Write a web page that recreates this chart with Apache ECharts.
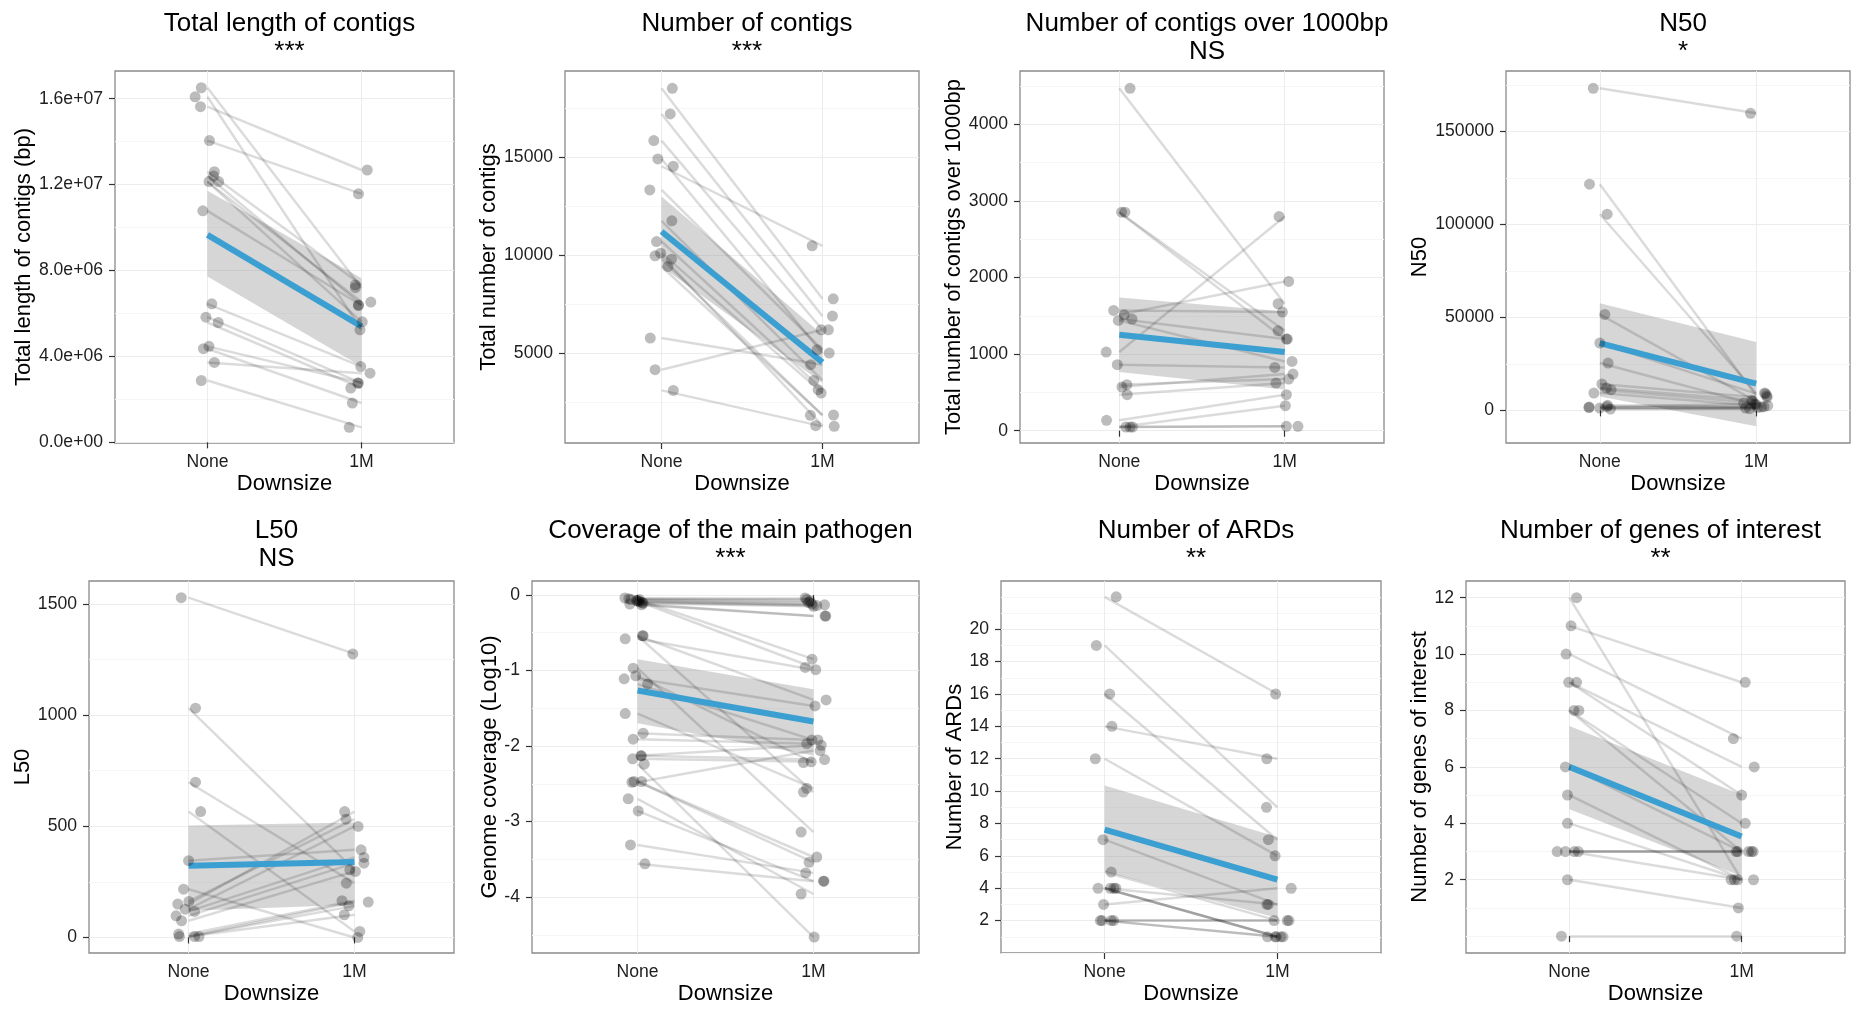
<!DOCTYPE html>
<html><head><meta charset="utf-8">
<script src="https://cdn.jsdelivr.net/npm/echarts@6.0.0/dist/echarts.min.js"></script>
<style>html,body{margin:0;padding:0;background:#fff}#c{width:1852px;height:1010px}</style>
</head><body><div id="c"></div><script>
// ---------- data ----------
const categories = ['None', '1M'];

// Panel 1: Total length of contigs
const p1None = [16.51e6,16.09e6,15.63e6,14.05e6,12.60e6,12.40e6,12.14e6,12.14e6,10.78e6,6.45e6,5.83e6,5.58e6,4.47e6,4.36e6,3.72e6,2.88e6];
const p1OneM = [7.20e6,5.24e6,12.68e6,11.57e6,7.33e6,6.40e6,6.53e6,5.61e6,6.37e6,3.53e6,2.76e6,2.53e6,2.76e6,1.83e6,3.22e6,0.70e6];
const p1JitNone = [-0.04,-0.08,-0.045,0.013,0.045,0.04,0.01,0.073,-0.03,0.028,-0.01,0.07,0.01,-0.026,0.045,-0.04];
const p1JitOneM = [-0.04,-0.01,0.037,-0.02,-0.04,-0.02,0.06,0.005,-0.02,-0.005,-0.02,-0.07,-0.025,-0.06,0.055,-0.08];
const p1Fit = [9.66e6, 5.40e6], p1Lo = [7.72e6, 3.53e6], p1Hi = [11.72e6, 7.64e6];
const p1Ticks = [0, 4e6, 8e6, 12e6, 16e6];
const p1TickLabels = ['0.0e+00','4.0e+06','8.0e+06','1.2e+07','1.6e+07'];
const p1Minor = [2e6, 6e6, 10e6, 14e6];

// Panel 2: Number of contigs
const p2None = [18520,17211,15850,14915,14541,13333,11752,10697,10102,9966,9796,9422,5765,4150,3095];
const p2OneM = [7772,6888,6190,5000,10476,5170,3605,3129,2959,1292,1820,1837,4405,6190,1258];
const p2JitNone = [0.067,0.054,-0.048,-0.023,0.073,-0.073,0.064,-0.031,-0.006,-0.04,0.062,0.04,-0.07,-0.04,0.073];
const p2JitOneM = [0.067,0.062,-0.008,0.042,-0.064,-0.033,-0.054,-0.027,-0.008,-0.042,-0.075,0.069,-0.073,0.037,0.073];
const p2Fit = [11207, 4524], p2Lo = [9422, 3469], p2Hi = [12993, 5935];
const p2Ticks = [5000, 10000, 15000];
const p2TickLabels = ['5000','10000','15000'];
const p2Minor = [2500, 7500, 12500, 17500];

// Panel 3: Number of contigs over 1000bp
const p3None = [4470,2852,2852,1570,1513,1439,1457,1026,861,600,570,470,135,48,48,48];
const p3OneM = [1657,1196,1304,1548,1948,904,1196,2796,826,674,739,622,470,326,57,57];
const p3JitNone = [0.065,0.014,0.034,-0.034,0.03,-0.006,0.077,-0.079,-0.012,0.046,0.016,0.048,-0.077,0.04,0.065,0.08];
const p3JitOneM = [-0.04,0.01,-0.04,-0.014,0.024,0.044,0.016,-0.034,-0.06,0.024,0.05,-0.053,0.01,0.004,0.01,0.08];
const p3Fit = [1252, 1026], p3Lo = [765, 536], p3Hi = [1739, 1557];
const p3Ticks = [0, 1000, 2000, 3000, 4000];
const p3TickLabels = ['0','1000','2000','3000','4000'];
const p3Minor = [500, 1500, 2500, 3500, 4500];

// Panel 4: N50
const p4None = [173286,121677,105549,51610,36198,25446,14157,12006,11110,9318,1792,1254,2688,717,1500,2000];
const p4OneM = [159846,7885,9318,4838,9000,3046,7000,5500,3942,2509,1792,1254,2000,896,1500,3500];
const p4JitNone = [-0.042,-0.066,0.047,0.032,0.0,0.053,0.013,0.042,0.072,-0.038,-0.068,0.0,0.05,0.068,-0.07,0.045];
const p4JitOneM = [-0.036,0.068,0.053,-0.021,0.06,0.0,0.07,-0.03,-0.08,0.074,0.034,-0.068,0.05,-0.042,0.01,-0.01];
const p4Fit = [36198, 14336], p4Lo = [7526, -8602], p4Hi = [57702, 36736];
const p4Ticks = [0, 50000, 100000, 150000];
const p4TickLabels = ['0','50000','100000','150000'];
const p4Minor = [25000, 75000, 125000, 175000];

// Panel 5: L50
const p5None = [1528,1031,698,566,345,217,150,162,127,117,97,75,15,4,4,4];
const p5OneM = [1275,304,244,27,394,0,566,532,499,360,334,297,165,142,159,102];
const p5JitNone = [-0.044,0.042,0.042,0.073,0.0,-0.03,-0.065,0.002,-0.02,0.036,-0.075,-0.042,-0.06,-0.055,0.036,0.063];
const p5JitOneM = [-0.01,-0.028,-0.049,0.032,0.04,0.02,-0.059,-0.051,0.022,0.057,0.057,0.006,-0.075,-0.034,0.083,-0.061];
const p5Fit = [322, 339], p5Lo = [120, 147], p5Hi = [503, 517];
const p5Ticks = [0, 500, 1000, 1500];
const p5TickLabels = ['0','500','1000','1500'];
const p5Minor = [250, 750, 1250];

// Panel 6: Coverage of the main pathogen
const p6None = [-0.04,-0.05,-0.06,-0.07,-0.08,-0.09,-0.10,-0.11,-0.12,-0.13,-0.06,-0.08,
  -0.58,-0.54,-0.54,-0.97,-1.07,-1.11,-1.18,-1.57,-1.91,-1.83,-2.13,-2.13,-2.17,-2.24,-2.48,-2.47,-2.47,-2.70,-2.86,-3.31,-3.56];
const p6OneM = [-0.04,-0.06,-0.08,-0.10,-0.12,-0.13,-0.14,-0.15,-0.28,-0.28,-0.85,-0.96,
  -0.99,-1.39,-2.61,-3.14,-2.22,-1.47,-1.92,-2.56,-1.97,-1.92,-1.99,-2.18,-2.21,-4.53,-2.06,-3.47,-3.54,-3.96,-3.79,-3.68,-3.79];
const p6JitNone = [-0.072,-0.05,-0.038,-0.006,0.004,0.013,0.027,0.032,-0.044,0.023,0.01,-0.002,
  -0.07,0.032,0.028,-0.025,-0.01,-0.076,0.057,-0.07,-0.025,0.032,0.019,0.022,-0.028,0.038,-0.032,-0.02,0.023,-0.053,0.004,-0.04,0.042];
const p6JitOneM = [-0.047,-0.038,-0.019,-0.028,-0.009,0.063,0.019,0.0,0.066,0.07,-0.008,-0.047,
  0.013,0.072,-0.057,-0.07,-0.057,0.009,-0.009,-0.038,-0.038,0.025,0.044,0.063,-0.013,0.004,0.038,0.019,-0.025,-0.07,0.057,-0.044,0.06];
const p6Fit = [-1.266, -1.676], p6Lo = [-1.698, -2.126], p6Hi = [-0.851, -1.248];
const p6Ticks = [-4, -3, -2, -1, 0];
const p6TickLabels = ['-4','-3','-2','-1','0'];
const p6Minor = [-4.5, -3.5, -2.5, -1.5, -0.5];

// Panel 7: Number of ARDs
const p7None = [22,19,16,14,12,7,5,4,4,4,4,3,2,2,2,2];
const p7OneM = [16,9,7,12,6,3,2,1,1,3,1,4,2,1,2,1];
const p7JitNone = [0.067,-0.048,0.029,0.042,-0.054,-0.01,0.038,-0.038,0.034,0.054,0.065,-0.006,-0.025,-0.015,0.038,0.052];
const p7JitOneM = [-0.01,-0.063,-0.052,-0.061,-0.013,-0.061,-0.019,-0.057,-0.013,-0.052,-0.006,0.08,0.057,0.033,0.067,0.02];
const p7Fit = [7.62, 4.53], p7Lo = [5.04, 2.16], p7Hi = [10.35, 7.16];
const p7Ticks = [2,4,6,8,10,12,14,16,18,20];
const p7TickLabels = ['2','4','6','8','10','12','14','16','18','20'];
const p7Minor = [0,1,3,5,7,9,11,13,15,17,19,21,22];

// Panel 8: Number of genes of interest
const p8None = [12,11,10,9,9,8,8,6,5,4,3,3,3,3,2,0];
const p8OneM = [2,9,7,6,5,4,3,3,2,2,3,3,3,2,1,0];
const p8JitNone = [0.042,0.01,-0.019,-0.004,0.042,0.027,0.055,-0.023,-0.011,-0.011,-0.071,-0.023,0.029,0.052,-0.011,-0.046];
const p8JitOneM = [-0.042,0.021,-0.048,0.073,0.0,0.021,-0.032,-0.023,-0.061,-0.023,0.04,0.057,0.067,0.069,-0.019,-0.029];
const p8Fit = [6.0, 3.53], p8Lo = [4.50, 2.12], p8Hi = [7.45, 5.01];
const p8Ticks = [2,4,6,8,10,12];
const p8TickLabels = ['2','4','6','8','10','12'];
const p8Minor = [0,1,3,5,7,9,11];

// ---------- panel definitions ----------
const panels = [
  {title:'Total length of contigs\n***', ytitle:'Total length of contigs (bp)', none:p1None, oneM:p1OneM, jn:p1JitNone, j1:p1JitOneM, fit:p1Fit, lo:p1Lo, hi:p1Hi, ticks:p1Ticks, labels:p1TickLabels, minor:p1Minor, ymin:-0.03e6, ymax:17.29e6},
  {title:'Number of contigs\n***', ytitle:'Total number of contigs', none:p2None, oneM:p2OneM, jn:p2JitNone, j1:p2JitOneM, fit:p2Fit, lo:p2Lo, hi:p2Hi, ticks:p2Ticks, labels:p2TickLabels, minor:p2Minor, ymin:408, ymax:19405},
  {title:'Number of contigs over 1000bp\nNS', ytitle:'Total number of contigs over 1000bp', none:p3None, oneM:p3OneM, jn:p3JitNone, j1:p3JitOneM, fit:p3Fit, lo:p3Lo, hi:p3Hi, ticks:p3Ticks, labels:p3TickLabels, minor:p3Minor, ymin:-161, ymax:4696},
  {title:'N50\n*', ytitle:'N50', none:p4None, oneM:p4OneM, jn:p4JitNone, j1:p4JitOneM, fit:p4Fit, lo:p4Lo, hi:p4Hi, ticks:p4Ticks, labels:p4TickLabels, minor:p4Minor, ymin:-17562, ymax:182605},
  {title:'L50\nNS', ytitle:'L50', none:p5None, oneM:p5OneM, jn:p5JitNone, j1:p5JitOneM, fit:p5Fit, lo:p5Lo, hi:p5Hi, ticks:p5Ticks, labels:p5TickLabels, minor:p5Minor, ymin:-70, ymax:1603},
  {title:'Coverage of the main pathogen\n***', ytitle:'Genome coverage (Log10)', none:p6None, oneM:p6OneM, jn:p6JitNone, j1:p6JitOneM, fit:p6Fit, lo:p6Lo, hi:p6Hi, ticks:p6Ticks, labels:p6TickLabels, minor:p6Minor, ymin:-4.741, ymax:0.185},
  {title:'Number of ARDs\n**', ytitle:'Number of ARDs', none:p7None, oneM:p7OneM, jn:p7JitNone, j1:p7JitOneM, fit:p7Fit, lo:p7Lo, hi:p7Hi, ticks:p7Ticks, labels:p7TickLabels, minor:p7Minor, ymin:0, ymax:22.98},
  {title:'Number of genes of interest\n**', ytitle:'Number of genes of interest', none:p8None, oneM:p8OneM, jn:p8JitNone, j1:p8JitOneM, fit:p8Fit, lo:p8Lo, hi:p8Hi, ticks:p8Ticks, labels:p8TickLabels, minor:p8Minor, ymin:-0.597, ymax:12.59}
];

// layout (pixels)
const layout = [
  {left:115,   top:71,  width:339, height:372, nameGap:74, titleTop:5},
  {left:565,   top:71,  width:354, height:372, nameGap:64, titleTop:5},
  {left:1020,  top:71,  width:364, height:372, nameGap:54, titleTop:5},
  {left:1506,  top:71,  width:344, height:372, nameGap:74, titleTop:5},
  {left:89,    top:581, width:365, height:372, nameGap:53, titleTop:512},
  {left:532,   top:581, width:387, height:372, nameGap:30, titleTop:512},
  {left:1001,  top:581, width:380, height:372, nameGap:34, titleTop:512},
  {left:1466,  top:581, width:379, height:372, nameGap:35, titleTop:512}
];

const FONT = '"Liberation Sans", Arial, Helvetica, sans-serif';
const BLUE = '#3b9fd1';
const grids = [], xAxes = [], yAxes = [], titles = [], series = [];

panels.forEach((p, i) => {
  const L = layout[i];
  grids.push({left:L.left, top:L.top, width:L.width, height:L.height, show:true,
    borderColor:'#8a8a8a', borderWidth:1.3, backgroundColor:'#ffffff', containLabel:false});
  titles.push({text:p.title, left:L.left + L.width/2, top:L.titleTop, textAlign:'center',
    textStyle:{fontSize:26, fontWeight:'normal', color:'#000', lineHeight:28, fontFamily:FONT}});
  xAxes.push({gridIndex:i, type:'value', min:0.4, max:2.6,
    axisLine:{show:false},
    axisTick:{show:true, customValues:[1,2], length:6, lineStyle:{color:'#333', width:1.2}},
    axisLabel:{customValues:[1,2], formatter:v => categories[Math.round(v)-1], fontSize:17.6, color:'#1e1e1e', margin:10, fontFamily:FONT},
    splitLine:{show:true, lineStyle:{color:'#ececec', width:1}},
    name:'Downsize', nameLocation:'middle', nameGap:30,
    nameTextStyle:{fontSize:22, color:'#000', fontFamily:FONT}});
  yAxes.push({gridIndex:i, type:'value', min:p.ymin, max:p.ymax,
    axisLine:{show:false},
    axisTick:{show:true, customValues:p.ticks, length:6, lineStyle:{color:'#333', width:1.2}},
    axisLabel:{customValues:p.ticks, formatter:v => p.labels[p.ticks.indexOf(v)], fontSize:17.6, color:'#1e1e1e', margin:12, fontFamily:FONT},
    splitLine:{show:true, lineStyle:{color:'#ececec', width:1}},
    name:p.ytitle, nameLocation:'middle', nameGap:L.nameGap,
    nameTextStyle:{fontSize:22, color:'#000', fontFamily:FONT}});
  yAxes.push({gridIndex:i, type:'value', min:p.ymin, max:p.ymax,
    axisLine:{show:false},
    axisTick:{show:false, customValues:p.minor},
    axisLabel:{show:false, customValues:p.minor},
    splitLine:{show:true, lineStyle:{color:'#f6f6f6', width:1}}});
  const yi = 2*i;
  // confidence band
  series.push({type:'custom', xAxisIndex:i, yAxisIndex:yi, silent:true, z:1,
    data:[[1, p.fit[0]]],
    renderItem:(params, api) => {
      const pts = [api.coord([1, p.lo[0]]), api.coord([1, p.hi[0]]), api.coord([2, p.hi[1]]), api.coord([2, p.lo[1]])];
      return {type:'polygon', shape:{points:pts}, style:{fill:'rgba(153,153,153,0.4)'}};
    }});
  // paired lines
  series.push({type:'lines', coordinateSystem:'cartesian2d', xAxisIndex:i, yAxisIndex:yi, silent:true, z:2,
    data:p.none.map((v,k) => ({coords:[[1, v],[2, p.oneM[k]]]})),
    lineStyle:{color:'rgba(0,0,0,0.14)', width:2.5, opacity:1, curveness:0}});
  // fitted line
  series.push({type:'line', xAxisIndex:i, yAxisIndex:yi, silent:true, z:3,
    data:[[1, p.fit[0]],[2, p.fit[1]]], showSymbol:false, symbol:'none',
    lineStyle:{color:BLUE, width:6}});
  // points
  const pts = p.none.map((v,k) => [1 + p.jn[k], v]).concat(p.oneM.map((v,k) => [2 + p.j1[k], v]));
  series.push({type:'scatter', xAxisIndex:i, yAxisIndex:yi, silent:true, z:4,
    data:pts, symbolSize:11, itemStyle:{color:'rgba(0,0,0,0.33)'}});
});

const chart = echarts.init(document.getElementById('c'), null, {renderer:'canvas'});
chart.setOption({animation:false, backgroundColor:'#ffffff', title:titles, grid:grids, xAxis:xAxes, yAxis:yAxes, series:series});
</script></body></html>
